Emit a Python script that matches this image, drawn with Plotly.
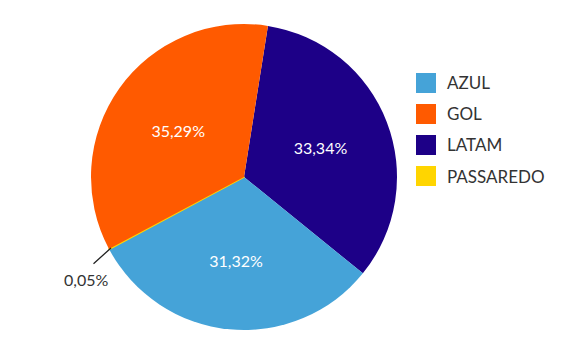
import plotly.graph_objects as go

# Data (clockwise from the top)
slice_labels = ["LATAM", "AZUL", "PASSAREDO", "GOL"]
slice_values = [33.34, 31.32, 0.05, 35.29]
slice_colors = ["#1D0087", "#45A3D8", "#FFD500", "#FF5A00"]

legend_labels = ["AZUL", "GOL", "LATAM", "PASSAREDO"]
legend_colors = ["#45A3D8", "#FF5A00", "#1D0087", "#FFD500"]

W, H = 578, 351
cx, cy, R = 244, 177, 153

fig = go.Figure()
fig.add_trace(go.Pie(
    labels=slice_labels,
    values=slice_values,
    sort=False,
    direction="clockwise",
    rotation=9,
    marker=dict(colors=slice_colors,
                line=dict(width=[0, 0, 1.5, 0], color=slice_colors)),
    texttemplate=["%{value:.2f}%", "%{value:.2f}%", "", "%{value:.2f}%"],
    textposition=["inside", "inside", "none", "inside"],
    insidetextorientation="horizontal",
    insidetextfont=dict(color="white", size=16, family="Lato"),
    showlegend=False,
    hoverinfo="label+percent",
    domain=dict(x=[(cx - R) / W, (cx + R) / W], y=[(H - cy - R) / H, (H - cy + R) / H]),
))

# Small-slice label with leader line
small_txt = f"{slice_values[2]:.2f}%".replace(".", ",")
fig.add_annotation(xref="paper", yref="paper", x=111 / W, y=1 - 248 / H,
                   ax=-19, ay=17, showarrow=True, arrowhead=0, arrowwidth=1.3,
                   arrowcolor="#222222", text="", standoff=0)
fig.add_annotation(xref="paper", yref="paper", x=86 / W, y=1 - 279 / H,
                   text=small_txt, showarrow=False, xanchor="center", yanchor="middle",
                   font=dict(size=16, color="#333333", family="Lato"))

# Legend built manually
lx, ly0, step, sz = 416, 73, 31, 20
for i, (lab, col) in enumerate(zip(legend_labels, legend_colors)):
    y = ly0 + i * step
    fig.add_shape(type="rect", xref="paper", yref="paper",
                  x0=lx / W, x1=(lx + sz) / W,
                  y0=1 - (y + sz) / H, y1=1 - y / H,
                  fillcolor=col, line=dict(width=0))
    fig.add_annotation(xref="paper", yref="paper", x=(lx + sz + 9) / W, y=1 - (y + sz / 2) / H,
                       text=lab, showarrow=False, xanchor="left", yanchor="middle",
                       font=dict(size=17, color="#333333", family="Lato"))

fig.update_layout(
    width=W, height=H,
    margin=dict(l=0, r=0, t=0, b=0),
    paper_bgcolor="white",
    plot_bgcolor="white",
    separators=",.",
)
fig.write_html("out.html")
